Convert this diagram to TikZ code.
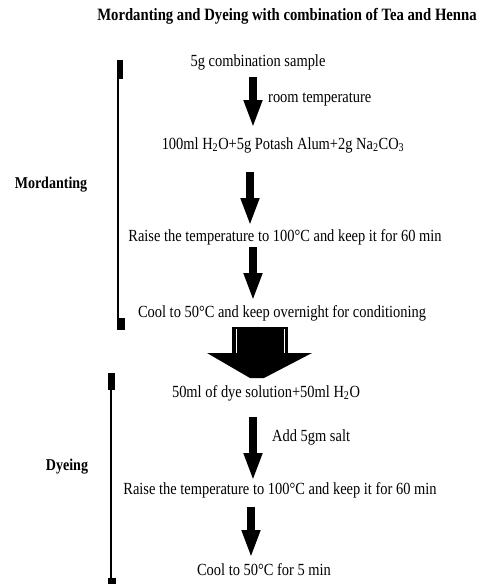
\documentclass[tikz,border=0pt]{standalone}
\usepackage{fontspec}
\setmainfont[FakeStretch=0.85]{Liberation Serif}
\usetikzlibrary{arrows.meta}
\tikzset{
  txt/.style={inner sep=0pt, font=\fontsize{17}{19}\selectfont},
  btxt/.style={inner sep=0pt, font=\fontsize{16.5}{19}\selectfont\bfseries},
  ttxt/.style={inner sep=0pt, font=\fontsize{17.3}{19}\selectfont\bfseries},
  flowarrow/.style={line width=8pt, -{Triangle[width=17pt,length=28pt]}},
  bracketline/.style={line width=2pt},
}
\begin{document}
\begin{tikzpicture}[x=1pt,y=-1pt]
\useasboundingbox (0,0) rectangle (478,584);
% texts
\node[ttxt] (title) at (287,16) {Mordanting and Dyeing with combination of Tea and Henna};
\node[txt] (s1) at (258,62) {5g combination sample};
\node[txt, anchor=west] (l1) at (268,100) {room temperature};
\node[txt] (s2) at (283,145) {100ml H\textsubscript{2}O+5g Potash Alum+2g Na\textsubscript{2}CO\textsubscript{3}};
\node[btxt] (mord) at (51,185) {Mordanting};
\node[txt] (s3) at (285,237) {Raise the temperature to 100°C and keep it for 60 min};
\node[txt] (s4) at (282,313) {Cool to 50°C and keep overnight for conditioning};
\node[txt] (s5) at (266,393) {50ml of dye solution+50ml H\textsubscript{2}O};
\node[txt, anchor=west] (l2) at (272,437) {Add 5gm salt};
\node[btxt] (dye) at (67,467) {Dyeing};
\node[txt] (s6) at (280,490) {Raise the temperature to 100°C and keep it for 60 min};
\node[txt] (s7) at (264,570) {Cool to 50°C for 5 min};
% arrow end points
\coordinate (a1s) at (253,77);  \coordinate (a1e) at (253,128);
\coordinate (a2s) at (250,172); \coordinate (a2e) at (250,226);
\coordinate (a3s) at (253,247); \coordinate (a3e) at (253,301);
\coordinate (a4s) at (253,417); \coordinate (a4e) at (253,481);
\coordinate (a5s) at (251,507); \coordinate (a5e) at (251,558);
\draw[flowarrow] (a1s) -- (a1e);
\draw[flowarrow] (a2s) -- (a2e);
\draw[flowarrow] (a3s) -- (a3e);
\draw[flowarrow] (a4s) -- (a4e);
\draw[flowarrow] (a5s) -- (a5e);
% big block arrow
\fill (232,327) rectangle (288,354);
\draw[white, line width=0.6pt] (236,329) -- (236,353) (284,329) -- (284,353);
\fill (207,353) -- (312,353) -- (264,378) -- (250,378) -- cycle;
% brackets
\draw[bracketline] (118,60) -- (118,330);
\fill (117,60) rectangle (123,79);
\fill (117,318) rectangle (125,330);
\draw[bracketline] (110.5,373) -- (110.5,584);
\fill (108,373) rectangle (115,390);
\fill (108,578) rectangle (116,584);
\end{tikzpicture}
\end{document}
